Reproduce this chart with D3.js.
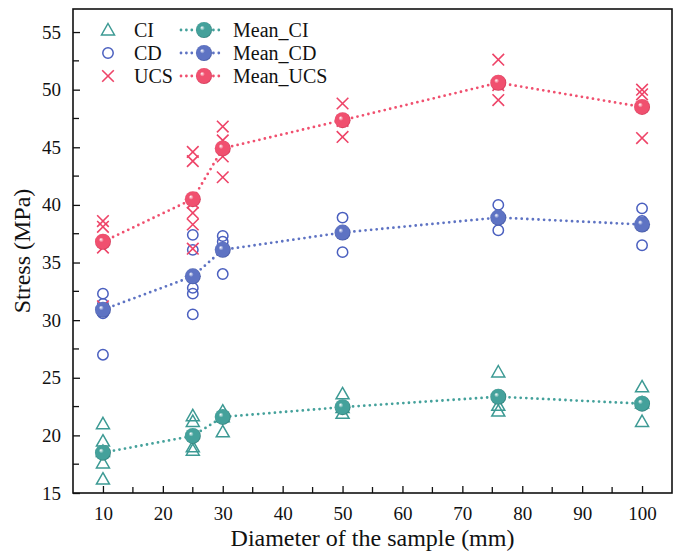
<!DOCTYPE html>
<html><head><meta charset="utf-8">
<script src="https://cdn.jsdelivr.net/npm/d3@7"></script>
<style>
html,body{margin:0;padding:0;background:#fff;}
svg{display:block;}
svg text{font-family:"Liberation Serif","Times New Roman",serif !important;}
</style></head>
<body>
<svg id="chart" width="679" height="553"></svg>
<script>
// ---- data ----
const diameters = [10, 25, 30, 50, 76, 100];
const ciValues  = [[21.0,19.5,18.6,17.6,16.2],[21.7,21.2,19.0,18.7],[22.1,21.6,20.3],[23.6,22.4,21.9],[25.5,22.6,22.1],[24.2,22.8,21.2]];
const cdValues  = [[32.3,31.4,30.6,27.0],[37.4,36.1,32.8,32.3,30.5],[37.3,36.8,36.2,34.0],[38.9,37.6,35.9],[40.0,38.9,37.8],[39.7,38.6,36.5]];
const ucsValues = [[38.6,38.1,36.3,31.2],[44.6,43.8,40.2,39.3,38.3,36.2],[46.8,45.6,44.2,42.4],[48.8,47.3,45.9],[52.6,50.4,49.1],[50.0,49.6,45.8]];
const meanCI  = [18.5,19.95,21.6,22.45,23.35,22.75];
const meanCD  = [30.9,33.8,36.1,37.6,38.9,38.3];
const meanUCS = [36.8,40.5,44.9,47.35,50.6,48.5];
const xTicks = [10,20,30,40,50,60,70,80,90,100];
const yTicks = [15,20,25,30,35,40,45,50,55];
const xTitle = "Diameter of the sample (mm)";
const yTitle = "Stress (MPa)";

// ---- layout ----
const W = 679, H = 553;
const m = {l:73, r:7, t:9, b:60};
const FONT = '"Liberation Serif","Times New Roman",serif';
const svg = d3.select("#chart");
const x = d3.scaleLinear().domain([5,105]).range([m.l, W-m.r]);
const y = d3.scaleLinear().domain([15,57]).range([H-m.b, m.t]);

const colors = {
  ci:  {mark:"#3d9a94", ball:"#44a19b", dark:"#236a66"},
  cd:  {mark:"#4a5fbf", ball:"#5e73c3", dark:"#34468f"},
  ucs: {mark:"#ee4468", ball:"#f0506f", dark:"#bf2b4b"}
};

const defs = svg.append("defs");
Object.entries(colors).forEach(([k,c])=>{
  const g = defs.append("radialGradient").attr("id","ball-"+k)
    .attr("cx","0.5").attr("cy","0.5").attr("r","0.55")
    .attr("fx","0.36").attr("fy","0.34");
  g.append("stop").attr("offset","0").attr("stop-color","#ffffff");
  g.append("stop").attr("offset","0.28").attr("stop-color",c.ball);
  g.append("stop").attr("offset","0.8").attr("stop-color",c.ball);
  g.append("stop").attr("offset","1").attr("stop-color",c.dark);
});

// ---- axes ----
const axG = svg.append("g");
const minorX = d3.range(5, 106, 5).filter(v=>v%10!==0 && v>5 && v<105);
const minorY = d3.range(15, 57, 2.5).filter(v=>v%5!==0);

const xAxis = d3.axisBottom(x).tickValues(xTicks).tickSizeInner(-7).tickSizeOuter(0).tickPadding(14);
const gx = axG.append("g").attr("transform",`translate(0,${H-m.b})`).call(xAxis).attr("font-family",null).attr("font-size",null);
gx.select(".domain").remove();
gx.selectAll("text").style("font-size","19px").style("font-family",FONT).attr("fill","#111");
gx.selectAll("line").attr("stroke","#111").attr("stroke-width",1.3);
axG.append("g").selectAll("line").data(minorX).join("line")
  .attr("x1",d=>x(d)).attr("x2",d=>x(d)).attr("y1",H-m.b).attr("y2",H-m.b-6)
  .attr("stroke","#111").attr("stroke-width",1.3);

const yAxis = d3.axisLeft(y).tickValues(yTicks).tickSizeInner(-7).tickSizeOuter(0).tickPadding(12);
const gy = axG.append("g").attr("transform",`translate(${m.l},0)`).call(yAxis).attr("font-family",null).attr("font-size",null);
gy.select(".domain").remove();
gy.selectAll("text").style("font-size","19px").style("font-family",FONT).attr("fill","#111");
gy.selectAll("line").attr("stroke","#111").attr("stroke-width",1.3);
axG.append("g").selectAll("line").data(minorY).join("line")
  .attr("y1",d=>y(d)).attr("y2",d=>y(d)).attr("x1",m.l).attr("x2",m.l+6)
  .attr("stroke","#111").attr("stroke-width",1.3);

svg.append("rect").attr("x",m.l).attr("y",m.t).attr("width",W-m.l-m.r).attr("height",H-m.t-m.b)
  .attr("fill","none").attr("stroke","#111").attr("stroke-width",1.6);

svg.append("text").attr("x",(m.l+W-m.r)/2).attr("y",546).attr("text-anchor","middle")
  .style("font-size","24px").style("font-family",FONT).attr("fill","#111").text(xTitle);
svg.append("text").attr("transform",`translate(30,${(m.t+H-m.b)/2}) rotate(-90)`).attr("text-anchor","middle")
  .style("font-size","24px").style("font-family",FONT).attr("fill","#111").text(yTitle);

// ---- marker shapes ----
function tri(g, cx, cy, col){
  const s=6.5;
  g.append("path").attr("d",`M${cx},${cy-s}L${cx+s*1.0},${cy+s*0.75}L${cx-s*1.0},${cy+s*0.75}Z`)
    .attr("fill","none").attr("stroke",col).attr("stroke-width",1.5);
}
function circ(g, cx, cy, col){
  g.append("circle").attr("cx",cx).attr("cy",cy).attr("r",5.2)
    .attr("fill","none").attr("stroke",col).attr("stroke-width",1.5);
}
function cross(g, cx, cy, col){
  const s=5.8;
  g.append("path").attr("d",`M${cx-s},${cy-s}L${cx+s},${cy+s}M${cx-s},${cy+s}L${cx+s},${cy-s}`)
    .attr("fill","none").attr("stroke",col).attr("stroke-width",1.6);
}
function ball(g, cx, cy, k){
  g.append("circle").attr("cx",cx).attr("cy",cy).attr("r",8).attr("fill",`url(#ball-${k})`);
}

// ---- scatter ----
const sc = svg.append("g");
diameters.forEach((d,i)=>{
  ciValues[i].forEach(v=>tri(sc, x(d), y(v), colors.ci.mark));
  cdValues[i].forEach(v=>circ(sc, x(d), y(v), colors.cd.mark));
  ucsValues[i].forEach(v=>cross(sc, x(d), y(v), colors.ucs.mark));
});

// ---- mean lines ----
const line = d3.line().x((v,i)=>x(diameters[i])).y(v=>y(v));
const lg = svg.append("g");
[[meanCI,"ci"],[meanCD,"cd"],[meanUCS,"ucs"]].forEach(([arr,k])=>{
  lg.append("path").attr("d",line(arr)).attr("fill","none").attr("stroke",colors[k].ball)
    .attr("stroke-width",2.8).attr("stroke-linecap","round").attr("stroke-dasharray","0 5.6");
});
const bg = svg.append("g");
[[meanCI,"ci"],[meanCD,"cd"],[meanUCS,"ucs"]].forEach(([arr,k])=>{
  arr.forEach((v,i)=>ball(bg, x(diameters[i]), y(v), k));
});

// ---- legend ----
const leg = svg.append("g");
const rows = [30, 53, 76];
tri(leg, 108, rows[0], colors.ci.mark);
circ(leg, 108, rows[1], colors.cd.mark);
cross(leg, 108, rows[2], colors.ucs.mark);
["CI","CD","UCS"].forEach((t,i)=>{
  leg.append("text").attr("x",134).attr("y",rows[i]+7).style("font-size","20px").style("font-family",FONT).attr("fill","#111").text(t);
});
["ci","cd","ucs"].forEach((k,i)=>{
  leg.append("line").attr("x1",181).attr("x2",224).attr("y1",rows[i]).attr("y2",rows[i])
    .attr("stroke",colors[k].ball).attr("stroke-width",2.8).attr("stroke-linecap","round").attr("stroke-dasharray","0 5.4");
  ball(leg, 204, rows[i], k);
});
["Mean_CI","Mean_CD","Mean_UCS"].forEach((t,i)=>{
  leg.append("text").attr("x",233).attr("y",rows[i]+7).style("font-size","20px").style("font-family",FONT).attr("fill","#111").text(t);
});
</script>
</body></html>
